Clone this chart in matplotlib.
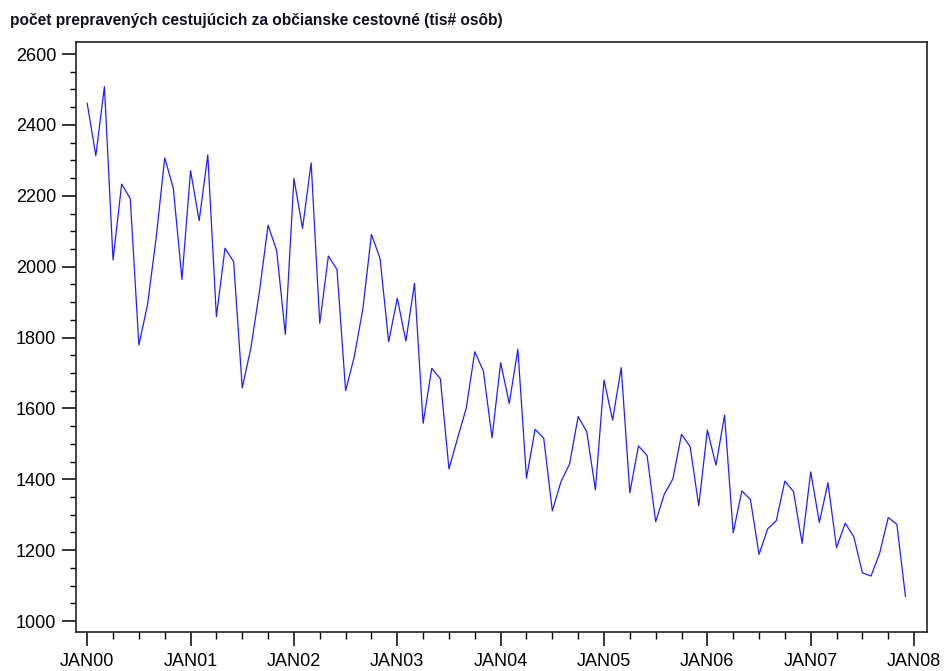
import matplotlib
matplotlib.use("Agg")
import matplotlib.pyplot as plt
from matplotlib.ticker import MultipleLocator, FixedLocator
from matplotlib import font_manager

title = "počet prepravených cestujúcich za občianske cestovné (tis# osôb)"

# monthly values Jan 2000 .. Dec 2007
values = [
    2461, 2313, 2508, 2019, 2233, 2192, 1779, 1892, 2080, 2307, 2221, 1964,
    2271, 2130, 2315, 1859, 2052, 2014, 1658, 1770, 1930, 2117, 2045, 1809,
    2249, 2108, 2293, 1840, 2030, 1992, 1650, 1745, 1880, 2091, 2023, 1788,
    1911, 1790, 1953, 1558, 1713, 1684, 1429, 1516, 1600, 1760, 1705, 1517,
    1729, 1614, 1767, 1403, 1541, 1516, 1311, 1393, 1443, 1577, 1534, 1370,
    1680, 1567, 1715, 1362, 1494, 1467, 1280, 1358, 1401, 1527, 1492, 1325,
    1539, 1440, 1581, 1249, 1367, 1343, 1188, 1260, 1283, 1395, 1365, 1219,
    1421, 1278, 1390, 1207, 1276, 1238, 1136, 1127, 1191, 1292, 1273, 1069,
]
year_labels = ["JAN00", "JAN01", "JAN02", "JAN03", "JAN04", "JAN05", "JAN06", "JAN07", "JAN08"]
y_ticks = [1000, 1200, 1400, 1600, 1800, 2000, 2200, 2400, 2600]

names = {f.name for f in font_manager.fontManager.ttflist}
tick_family = ["Liberation Sans", "DejaVu Sans"]
tick_family = [f for f in tick_family if f in names] or ["DejaVu Sans"]

fig = plt.figure(figsize=(9.44, 6.71), dpi=100)
ax = fig.add_axes([76/944, 1-632/671, (927-76)/944, (632-42)/671])

months = list(range(len(values)))
ax.plot(months, values, color="#2020ff", lw=0.9)

ax.set_xlim(-1.3, 97.5)
ax.set_ylim(969, 2634)

ax.xaxis.set_major_locator(FixedLocator([12*i for i in range(len(year_labels))]))
ax.set_xticklabels(year_labels)
ax.xaxis.set_minor_locator(MultipleLocator(3))
ax.yaxis.set_major_locator(FixedLocator(y_ticks))
ax.yaxis.set_minor_locator(MultipleLocator(50))

ax.tick_params(axis="both", which="major", direction="out", length=9.8, width=1.1,
               labelsize=13, colors="black")
ax.tick_params(axis="y", which="major", pad=4.5)
ax.tick_params(axis="x", which="major", pad=5.5)
ax.tick_params(axis="both", which="minor", direction="out", length=4.5, width=1.0)
ax.tick_params(axis="x", which="minor", length=5)
for lab in ax.get_xticklabels() + ax.get_yticklabels():
    lab.set_family(tick_family)

for s in ax.spines.values():
    s.set_linewidth(1.2)
    s.set_color("#222222")

fig.text(10/944, 1-20/671, title, fontsize=11.2, fontweight="bold",
         family=["Liberation Sans", "DejaVu Sans"], va="center", ha="left", color="#111122")

fig.savefig("out.png", dpi=100)
